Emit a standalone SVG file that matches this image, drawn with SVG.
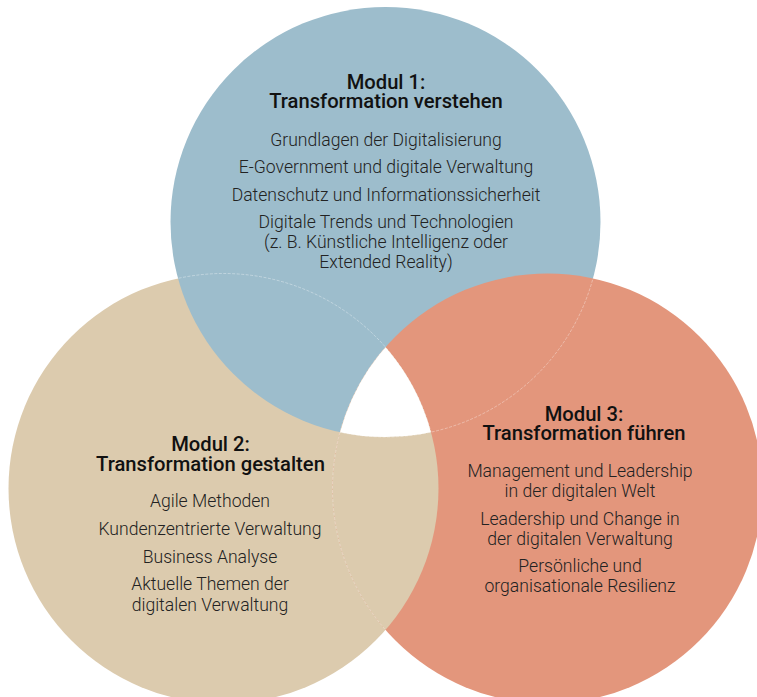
<svg xmlns="http://www.w3.org/2000/svg" width="757" height="697" viewBox="0 0 757 697">
<style>
.t{font-family:Roboto,"Liberation Sans",sans-serif;font-weight:500;font-size:20.2px;fill:#111;text-anchor:middle}
.i{font-family:Roboto,"Liberation Sans",sans-serif;font-weight:300;font-size:17.6px;fill:#222;text-anchor:middle}
.edge{fill:none;stroke:#fff;stroke-opacity:0.45;stroke-width:0.8;stroke-dasharray:3 1.5}
</style>
<defs>
<clipPath id="cBlue"><circle cx="385.5" cy="222" r="215"/></clipPath>
<clipPath id="cBeige"><circle cx="223.5" cy="488.5" r="215"/></clipPath>
<clipPath id="cSalmon"><circle cx="547.5" cy="488.5" r="215"/></clipPath>
<clipPath id="cSalmonBlue" clip-path="url(#cBlue)"><circle cx="547.5" cy="488.5" r="215"/></clipPath>
</defs>
<rect width="757" height="697" fill="#fff"/>
<g id="circles">
<circle id="beige" cx="223.5" cy="488.5" r="215" fill="#dccbae"/>
<circle id="blue" cx="385.5" cy="222" r="215" fill="#9dbdcc"/>
<circle id="salmon" cx="547.5" cy="488.5" r="215" fill="#e3967c"/>
<circle cx="223.5" cy="488.5" r="215" fill="#dccbae" clip-path="url(#cSalmon)"/>
<g clip-path="url(#cSalmonBlue)"><circle cx="223.5" cy="488.5" r="215" fill="#fff"/></g>
</g>
<g id="connectors">
<circle class="edge" cx="223.5" cy="488.5" r="215" clip-path="url(#cBlue)"/>
<circle class="edge" cx="385.5" cy="222" r="215" clip-path="url(#cSalmon)"/>
<circle class="edge" cx="547.5" cy="488.5" r="215" clip-path="url(#cBeige)"/>
</g>
<g id="modul1">
<text class="t" x="386" y="89">Modul 1:<tspan x="386" y="108">Transformation verstehen</tspan></text>
<text class="i" x="386" y="146">Grundlagen der Digitalisierung</text>
<text class="i" x="386" y="173">E-Government und digitale Verwaltung</text>
<text class="i" x="386" y="201">Datenschutz und Informationssicherheit</text>
<text class="i" x="386" y="228">Digitale Trends und Technologien<tspan x="386" y="248">(z. B. Künstliche Intelligenz oder</tspan><tspan x="386" y="268">Extended Reality)</tspan></text>
</g>
<g id="modul2">
<text class="t" x="210.5" y="451">Modul 2:<tspan x="210.5" y="471">Transformation gestalten</tspan></text>
<text class="i" x="210" y="507">Agile Methoden</text>
<text class="i" x="210" y="535">Kundenzentrierte Verwaltung</text>
<text class="i" x="210" y="563">Business Analyse</text>
<text class="i" x="210" y="590">Aktuelle Themen der<tspan x="210" y="611">digitalen Verwaltung</tspan></text>
</g>
<g id="modul3">
<text class="t" x="584" y="421">Modul 3:<tspan x="584" y="440">Transformation führen</tspan></text>
<text class="i" x="580" y="477">Management und Leadership<tspan x="580" y="497">in der digitalen Welt</tspan></text>
<text class="i" x="580" y="525">Leadership und Change in<tspan x="580" y="545">der digitalen Verwaltung</tspan></text>
<text class="i" x="580" y="572">Persönliche und<tspan x="580" y="592">organisationale Resilienz</tspan></text>
</g>
</svg>
